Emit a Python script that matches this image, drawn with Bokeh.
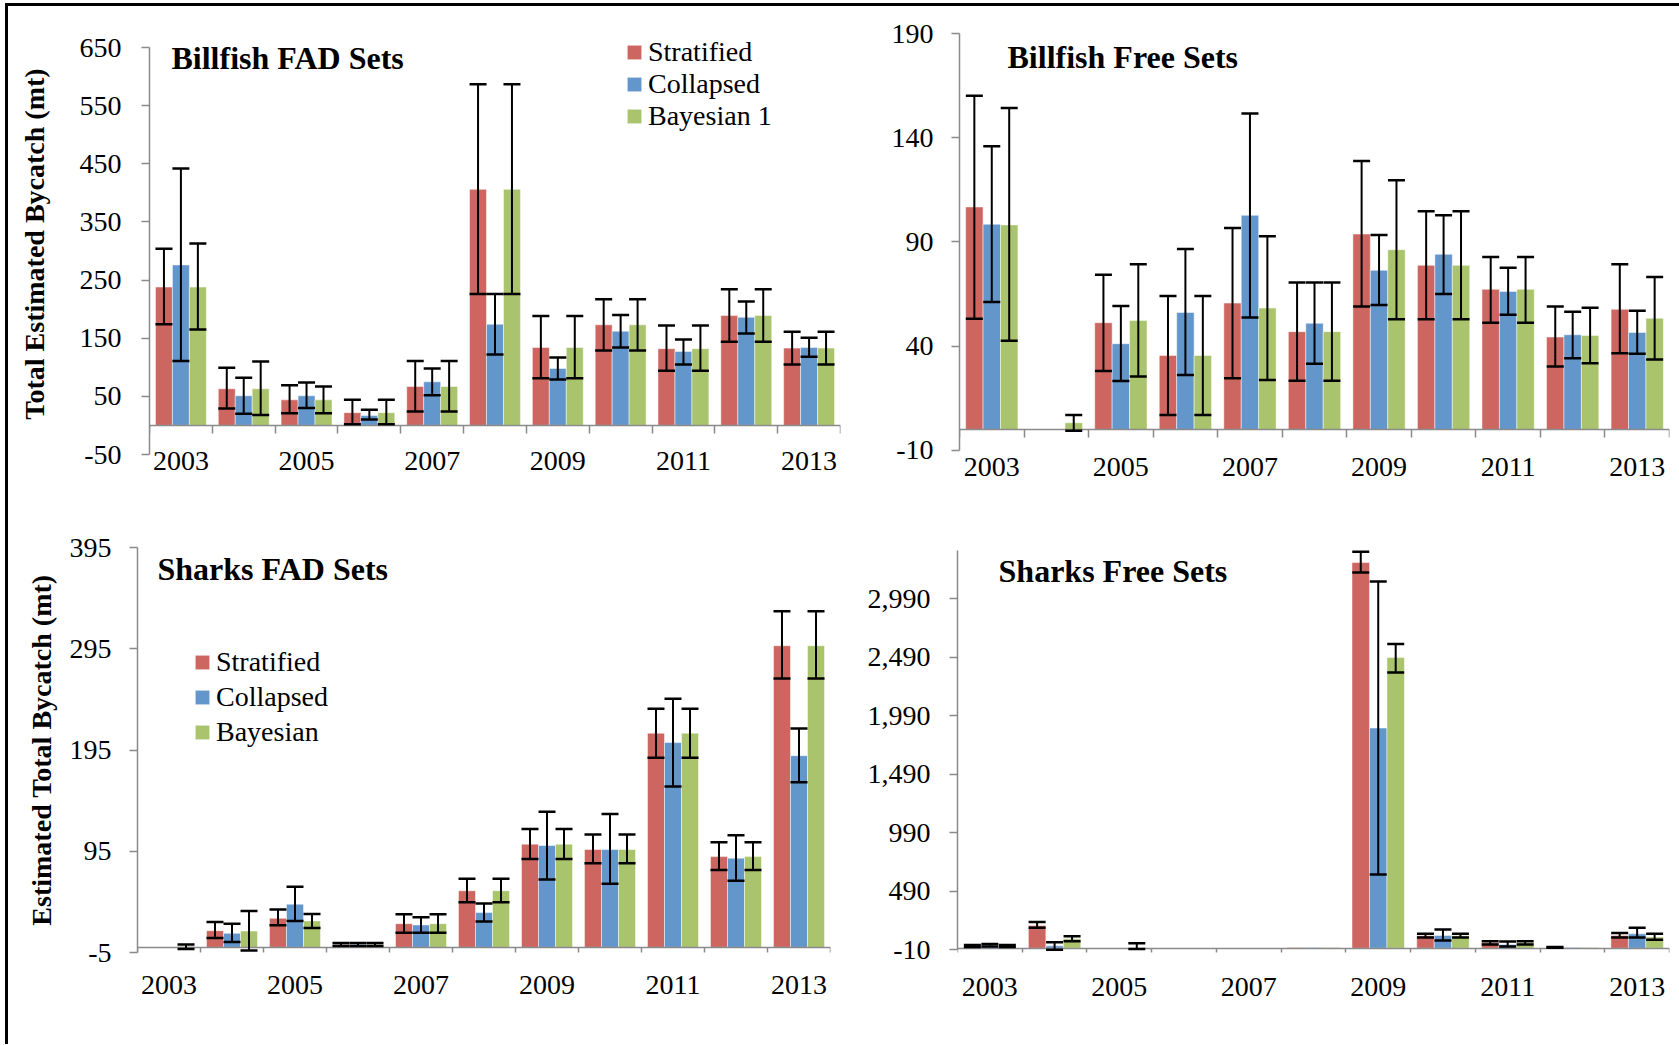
import math
from bokeh.plotting import figure
from bokeh.models import (ColumnDataSource, Range1d, LinearAxis, FixedTicker, Whisker, TeeHead,
                          Legend, LegendItem, Label, NumeralTickFormatter)
from bokeh.transform import dodge
from bokeh.layouts import column, row
from bokeh.embed import file_html
from bokeh.resources import INLINE

NaN = float("nan")

# ---------------- data ----------------
years = [2003, 2004, 2005, 2006, 2007, 2008, 2009, 2010, 2011, 2012, 2013]
series_top = ["Stratified", "Collapsed", "Bayesian 1"]
series_bottom = ["Stratified", "Collapsed", "Bayesian"]

# Billfish FAD sets
bf_fad_strat = [238, 63, 44, 22, 67, 406, 134, 173, 132, 189, 133]
bf_fad_strat_lo = [174, 29, 21, 2, 24, 226, 81, 129, 94, 144, 105]
bf_fad_strat_hi = [304, 99, 69, 44, 111, 587, 188, 217, 172, 234, 161]
bf_fad_coll = [276, 51, 51, 17, 75, 174, 98, 162, 127, 186, 134]
bf_fad_coll_lo = [111, 20, 30, 10, 52, 122, 79, 134, 105, 158, 118]
bf_fad_coll_hi = [442, 82, 74, 27, 98, 226, 117, 190, 148, 213, 151]
bf_fad_bayes = [238, 63, 44, 22, 67, 406, 134, 173, 132, 189, 133]
bf_fad_bayes_lo = [165, 18, 21, 2, 24, 226, 81, 129, 94, 144, 105]
bf_fad_bayes_hi = [313, 110, 67, 44, 111, 587, 188, 217, 172, 234, 161]

# Billfish free sets
bf_free_strat = [106.8, 0, 51.3, 35.6, 60.7, 47, 93.8, 78.8, 67.3, 44.4, 57.7]
bf_free_strat_lo = [53.2, NaN, 28.1, 7, 24.7, 23.4, 59.1, 53, 51.3, 30.3, 36.7]
bf_free_strat_hi = [160.2, NaN, 74.3, 64.1, 96.7, 70.6, 128.9, 104.7, 82.8, 59.1, 79.3]
bf_free_coll = [98.5, 0, 41.2, 56.2, 102.8, 51, 76.4, 84.1, 66.3, 45.5, 46.6]
bf_free_coll_lo = [61.2, NaN, 23.3, 26.2, 53.8, 31.6, 59.8, 65, 55.1, 34.3, 36.4]
bf_free_coll_hi = [135.9, NaN, 59.3, 86.6, 151.6, 70.6, 93.4, 102.8, 77.7, 56.6, 57]
bf_free_bayes = [98.2, 3.3, 52.4, 35.6, 58.3, 47, 86.3, 78.8, 67.3, 45.2, 53.4]
bf_free_bayes_lo = [42.6, -0.5, 25.5, 7, 23.8, 23.4, 52.9, 53, 51.3, 31.9, 33.7]
bf_free_bayes_hi = [154.3, 7, 79.3, 64.1, 92.7, 70.6, 119.6, 104.7, 82.8, 58.5, 73.2]

# Sharks FAD sets
sh_fad_strat = [0, 16.6, 28.8, 3, 23.5, 56, 102, 96.7, 211.6, 89.7, 298]
sh_fad_strat_lo = [NaN, 9.3, 21.9, 1.5, 14.6, 44.7, 87.4, 83.1, 187.4, 76.5, 265.6]
sh_fad_strat_hi = [NaN, 25.2, 37.4, 4.5, 32.8, 67.9, 116.9, 111.6, 235.8, 104, 332.1]
sh_fad_coll = [0, 13.9, 42.7, 3, 22.2, 34.4, 100.7, 96.7, 202.3, 88.1, 189.4]
sh_fad_coll_lo = [NaN, 5.3, 26.2, 1.5, 14.6, 25.5, 67.2, 62.9, 158.9, 65.9, 163.2]
sh_fad_coll_hi = [NaN, 23.5, 59.9, 4.5, 29.8, 43.4, 134.1, 131.8, 245.7, 110.9, 216.2]
sh_fad_bayes = [1, 16.2, 26.2, 3, 23.5, 56, 102, 96.7, 211.6, 89.7, 298]
sh_fad_bayes_lo = [-1.5, -3, 19.2, 1.5, 14.6, 44.7, 87.4, 83.1, 187.4, 76.5, 265.6]
sh_fad_bayes_hi = [3, 36.1, 33.1, 4.5, 32.8, 67.9, 116.9, 111.6, 235.8, 104, 332.1]

# Sharks free sets
sh_free_strat = [20, 195, 0, 0, 0, 8, 3297, 107, 47, 8, 110]
sh_free_strat_lo = [12, 175, NaN, NaN, NaN, NaN, 3212, 93, 33, 4, 93]
sh_free_strat_hi = [28, 224, NaN, NaN, NaN, NaN, 3389, 124, 61, 12, 130]
sh_free_coll = [25, 21, 0, 0, 0, 8, 1883, 110, 33, 8, 124]
sh_free_coll_lo = [15, -13, NaN, NaN, NaN, NaN, 632, 67, 16, NaN, 93]
sh_free_coll_hi = [38, 53, NaN, NaN, NaN, NaN, 3135, 161, 58, NaN, 175]
sh_free_bayes = [20, 81, 3, 0, 0, 8, 2485, 107, 47, 8, 96]
sh_free_bayes_lo = [12, 61, -5, NaN, NaN, NaN, 2357, 93, 33, NaN, 73]
sh_free_bayes_hi = [28, 104, 44, NaN, NaN, NaN, 2602, 124, 61, NaN, 124]

ticks_bf_fad = [-50, 50, 150, 250, 350, 450, 550, 650]
ticks_bf_free = [-10, 40, 90, 140, 190]
ticks_sh_fad = [-5, 95, 195, 295, 395]
ticks_sh_free = [-10, 490, 990, 1490, 1990, 2490, 2990]

# ---------------- style ----------------
FONT = "Liberation Serif"
COLORS = ["#CD6660", "#6396CB", "#A9C46C"]
AX = "#8a8a8a"
BW = 0.27


def make_panel(W, H, mb, yr, ybounds, yticks, vals, title, tpos, ytick_standoff, xlab_standoff,
               fmt, ylabel=None, ylabel_standoff=0, legend=None):
    p = figure(width=W, height=H, output_backend="svg", toolbar_location=None,
               x_range=Range1d(years[0] - 0.5, years[-1] + 0.5), y_range=Range1d(*yr),
               x_axis_location=None,
               min_border_left=mb[0], min_border_right=mb[1],
               min_border_top=mb[2], min_border_bottom=mb[3])
    p.outline_line_color = None
    p.grid.visible = False
    p.background_fill_color = "white"
    p.border_fill_color = "white"

    ya = p.yaxis[0]
    ya.ticker = FixedTicker(ticks=yticks)
    ya.formatter = fmt
    ya.bounds = ybounds
    ya.minor_tick_line_color = None
    ya.major_tick_in = 0
    ya.major_tick_out = 8
    ya.axis_line_color = AX
    ya.axis_line_width = 1.5
    ya.major_tick_line_color = AX
    ya.major_tick_line_width = 1.5
    ya.major_label_text_font = FONT
    ya.major_label_text_font_size = "28px"
    ya.major_label_text_color = "black"
    ya.major_label_standoff = ytick_standoff
    if ylabel:
        ya.axis_label = ylabel
        ya.axis_label_text_font = FONT
        ya.axis_label_text_font_style = "bold"
        ya.axis_label_text_font_size = "28px"
        ya.axis_label_text_color = "black"
        ya.axis_label_standoff = ylabel_standoff

    # year labels (low position)
    lax = LinearAxis(ticker=FixedTicker(ticks=years[::2]),
                     axis_line_color=None, major_tick_line_color=None,
                     minor_tick_line_color=None, major_tick_in=0, major_tick_out=0,
                     major_label_standoff=xlab_standoff,
                     major_label_text_font=FONT, major_label_text_font_size="28px",
                     major_label_text_color="black")
    p.add_layout(lax, "below")
    # horizontal axis crossing at zero, ticks between categories
    bounds = [years[0] - 0.5] + [y + 0.5 for y in years]
    zax = LinearAxis(fixed_location=0, ticker=FixedTicker(ticks=bounds),
                     axis_line_color=AX, axis_line_width=1.5,
                     major_tick_line_color=AX, major_tick_line_width=1.5,
                     major_tick_in=0, major_tick_out=8, minor_tick_line_color=None,
                     major_label_text_color=None)
    p.add_layout(zax, "below")

    data = dict(x=years)
    for k in range(3):
        data[f"v{k}"] = vals[k][0]
        data[f"lo{k}"] = vals[k][1]
        data[f"hi{k}"] = vals[k][2]
    src = ColumnDataSource(data)

    offs = [-BW, 0.0, BW]
    rends = []
    for k in range(3):
        r = p.vbar(x=dodge("x", offs[k]), top=f"v{k}", bottom=0, width=BW, source=src,
                   fill_color=COLORS[k], line_color="white", line_width=0.8, line_alpha=0.6)
        rends.append(r)
    for k in range(3):
        w = Whisker(base=dodge("x", offs[k]), lower=f"lo{k}", upper=f"hi{k}", source=src,
                    level="annotation", line_color="black", line_width=2,
                    upper_head=TeeHead(size=17, line_color="black", line_width=2.5),
                    lower_head=TeeHead(size=17, line_color="black", line_width=2.5))
        p.add_layout(w)

    p.add_layout(Label(x=tpos[0], y=tpos[1], text=title, text_font=FONT,
                       text_font_style="bold", text_font_size="32px",
                       text_baseline="alphabetic", text_color="black"))

    if legend is not None:
        names, loc, spacing = legend
        leg = Legend(items=[LegendItem(label=names[k], renderers=[rends[k]]) for k in range(3)],
                     location=loc, orientation="vertical", glyph_width=18, glyph_height=18,
                     label_standoff=5, spacing=spacing, padding=0, margin=0,
                     label_text_font=FONT, label_text_font_size="28px",
                     label_text_color="black", border_line_color=None,
                     background_fill_alpha=0)
        p.add_layout(leg)
    return p


fmt_plain = NumeralTickFormatter(format="0")
fmt_comma = NumeralTickFormatter(format="0,0")

p1 = make_panel(850, 494, (141, 18, 27, 46), (-50, 674.08), (-50, 650), ticks_bf_fad,
                [(bf_fad_strat, bf_fad_strat_lo, bf_fad_strat_hi),
                 (bf_fad_coll, bf_fad_coll_lo, bf_fad_coll_hi),
                 (bf_fad_bayes, bf_fad_bayes_lo, bf_fad_bayes_hi)],
                "Billfish FAD Sets", (2002.85, 632.7), 20, -3, fmt_plain,
                ylabel="Total Estimated Bycatch (mt)", ylabel_standoff=27,
                legend=(series_top, (476, 322), 0))

p2 = make_panel(821, 494, (101, 10, 27, 46), (-11.92, 190), (-10, 190), ticks_bf_free,
                [(bf_free_strat, bf_free_strat_lo, bf_free_strat_hi),
                 (bf_free_coll, bf_free_coll_lo, bf_free_coll_hi),
                 (bf_free_bayes, bf_free_bayes_lo, bf_free_bayes_hi)],
                "Billfish Free Sets", (2003.244, 178.7), 18, 3, fmt_plain)

p3 = make_panel(850, 544, (129, 28, 47, 92), (-5, 395), (-5, 395), ticks_sh_fad,
                [(sh_fad_strat, sh_fad_strat_lo, sh_fad_strat_hi),
                 (sh_fad_coll, sh_fad_coll_lo, sh_fad_coll_hi),
                 (sh_fad_bayes, sh_fad_bayes_lo, sh_fad_bayes_hi)],
                "Sharks FAD Sets", (2002.817, 373.3), 18, 23, fmt_plain,
                ylabel="Estimated Total Bycatch (mt)", ylabel_standoff=10,
                legend=(series_bottom, (56, 204), 3))

p4 = make_panel(821, 544, (99, 10, 47, 92), (-35.64, 3425.9), (-10, 3400), ticks_sh_free,
                [(sh_free_strat, sh_free_strat_lo, sh_free_strat_hi),
                 (sh_free_coll, sh_free_coll_lo, sh_free_coll_hi),
                 (sh_free_bayes, sh_free_bayes_lo, sh_free_bayes_hi)],
                "Sharks Free Sets", (2003.134, 3229), 19, 25, fmt_comma)

layout = column(row(p1, p2), row(p3, p4),
                styles={"border-top": "3px solid black", "border-left": "3px solid black",
                        "margin-top": "3px", "margin-left": "5px"})

open("out.html", "w").write(file_html(layout, INLINE))
